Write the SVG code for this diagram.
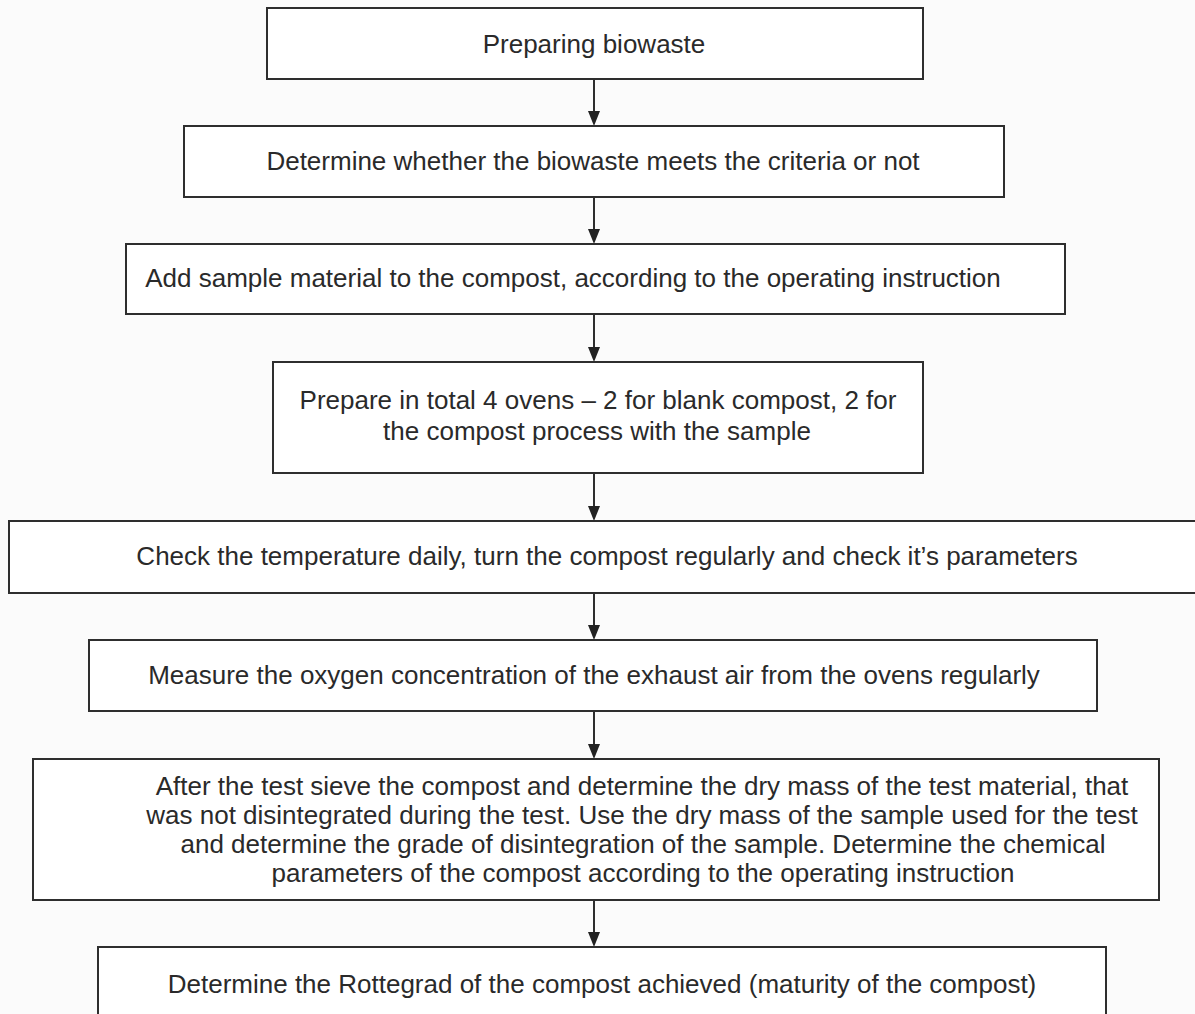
<svg xmlns="http://www.w3.org/2000/svg" width="1195" height="1014" viewBox="0 0 1195 1014">
<style>
.box{fill:#ffffff;stroke:#2e2e2e;stroke-width:2}
.t{font-family:"Liberation Sans",Arial,sans-serif;font-size:26px;fill:#2a2a2a;text-anchor:middle}
.c{stroke:#2e2e2e;stroke-width:2;fill:none}
.ah{fill:#222}
</style>
<rect x="0" y="0" width="1195" height="1014" fill="#fbfbfb"/>
<g id="connectors">
<line class="c" x1="594" y1="79" x2="594" y2="112"/><path class="ah" d="M588,111 L600,111 L594,126 Z"/>
<line class="c" x1="594" y1="197" x2="594" y2="230"/><path class="ah" d="M588,229 L600,229 L594,244 Z"/>
<line class="c" x1="594" y1="314" x2="594" y2="348"/><path class="ah" d="M588,347 L600,347 L594,362 Z"/>
<line class="c" x1="594" y1="473" x2="594" y2="507"/><path class="ah" d="M588,506 L600,506 L594,521 Z"/>
<line class="c" x1="594" y1="593" x2="594" y2="626"/><path class="ah" d="M588,625 L600,625 L594,640 Z"/>
<line class="c" x1="594" y1="711" x2="594" y2="745"/><path class="ah" d="M588,744 L600,744 L594,759 Z"/>
<line class="c" x1="594" y1="900" x2="594" y2="933"/><path class="ah" d="M588,932 L600,932 L594,947 Z"/>
</g>
<g id="n1"><rect class="box" x="267" y="8" width="656" height="71"/><text class="t" x="594" y="53">Preparing biowaste</text></g>
<g id="n2"><rect class="box" x="184" y="126" width="820" height="71"/><text class="t" x="593" y="170">Determine whether the biowaste meets the criteria or not</text></g>
<g id="n3"><rect class="box" x="126" y="244" width="939" height="70"/><text class="t" x="573" y="287">Add sample material to the compost, according to the operating instruction</text></g>
<g id="n4"><rect class="box" x="273" y="362" width="650" height="111"/><text class="t" x="598" y="409">Prepare in total 4 ovens – 2 for blank compost, 2 for</text><text class="t" x="597" y="440">the compost process with the sample</text></g>
<g id="n5"><rect class="box" x="9" y="521" width="1200" height="72"/><text class="t" x="607" y="565">Check the temperature daily, turn the compost regularly and check it’s parameters</text></g>
<g id="n6"><rect class="box" x="89" y="640" width="1008" height="71"/><text class="t" x="594" y="684">Measure the oxygen concentration of the exhaust air from the ovens regularly</text></g>
<g id="n7"><rect class="box" x="33" y="759" width="1126" height="141"/>
<text class="t" x="642" y="795">After the test sieve the compost and determine the dry mass of the test material, that</text>
<text class="t" x="642" y="824">was not disintegrated during the test. Use the dry mass of the sample used for the test</text>
<text class="t" x="643" y="853">and determine the grade of disintegration of the sample. Determine the chemical</text>
<text class="t" x="643" y="882">parameters of the compost according to the operating instruction</text></g>
<g id="n8"><rect class="box" x="98" y="947" width="1008" height="80"/><text class="t" x="602" y="993">Determine the Rottegrad of the compost achieved (maturity of the compost)</text></g>
</svg>
